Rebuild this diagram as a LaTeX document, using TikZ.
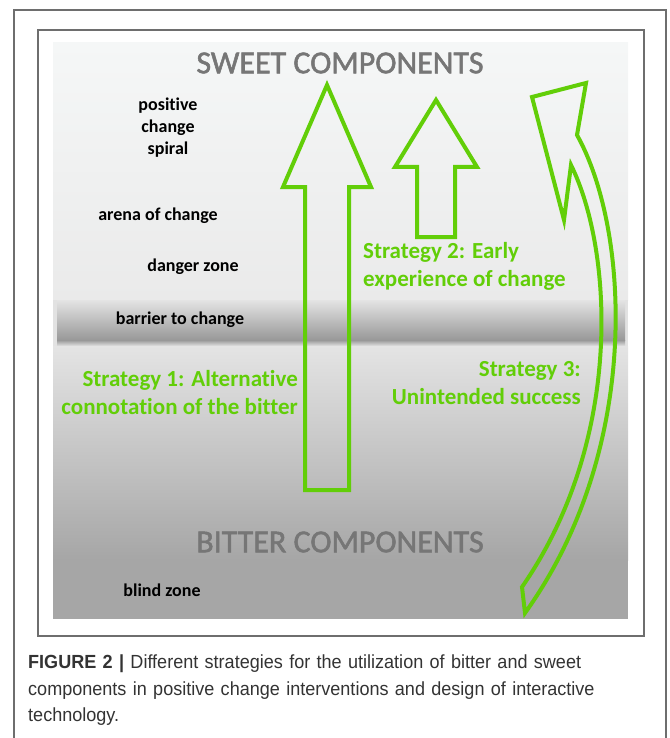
\documentclass[tikz,border=0pt]{standalone}
\usepackage{fontspec}
\setmainfont{Carlito}[Ligatures=NoCommon]
\newfontfamily\headfont{Carlito}[FakeBold=1.6]
\newfontfamily\capfont{Liberation Sans}[FakeStretch=0.95]
\definecolor{stratgreen}{RGB}{98,206,8}
\definecolor{headgray}{RGB}{118,118,118}
\definecolor{framegray}{RGB}{110,110,110}
\tikzset{
	stratarrow/.style={draw=stratgreen, line width=4pt, line join=miter},
	zonelabel/.style={font=\bfseries\fontsize{18}{22}\selectfont, text=black, inner sep=0pt, align=center},
	stratlabel/.style={font=\bfseries\fontsize{23}{28}\selectfont, text=stratgreen, inner sep=0pt},
	headline/.style={font=\headfont\fontsize{32}{40}\selectfont, text=headgray, inner sep=0pt}
}
\begin{document}
\begin{tikzpicture}[x=1pt, y=-1pt]
		\useasboundingbox (0,0) rectangle (669,738);
		% frames
		\draw [framegray, line width=1.3pt] (14,738) -- (14,10) -- (666,10) -- (666,738);
		\draw [framegray, line width=1.1pt] (38,30) rectangle (644,636);
		% background of the zones
		\shade [top color={rgb,255:red,245;green,247;blue,247}, bottom color={rgb,255:red,234;green,234;blue,234}] (53,43) rectangle (628,300);
		\fill [color={rgb,255:red,226;green,226;blue,226}] (53,300) rectangle (628,346);
		\shade [top color={rgb,255:red,228;green,228;blue,228}, middle color={rgb,255:red,192;green,192;blue,192}, bottom color={rgb,255:red,152;green,152;blue,152}] (57,300) rectangle (625,340);
		\shade [top color={rgb,255:red,152;green,152;blue,152}, bottom color={rgb,255:red,226;green,226;blue,226}] (57,340) rectangle (625,346);
		\shade [top color={rgb,255:red,228;green,228;blue,228}, bottom color={rgb,255:red,166;green,166;blue,166}] (53,346) rectangle (628,560);
		\fill [color={rgb,255:red,166;green,166;blue,166}] (53,560) rectangle (628,619);
		% headlines
		\node [headline] (sweet) at (340,63) {SWEET COMPONENTS};
		\node [headline] (bitter) at (340,542) {BITTER COMPONENTS};
		% zones
		\node [zonelabel] (spiral) at (168,128) {positive\\change\\spiral};
		\node [zonelabel] (arena) at (158,216) {arena of change};
		\node [zonelabel] (danger) at (193,267) {danger zone};
		\node [zonelabel] (barrier) at (180,320) {barrier to change};
		\node [zonelabel] (blind) at (162,590) {blind zone};
		% strategy 1
		\draw [stratarrow] (327,85) -- (371,187) -- (349,187) -- (349,490) -- (305,490) -- (305,187) -- (283,187) -- cycle;
		\node [stratlabel, anchor=east, align=right] (strat1) at (298,393) {Strategy 1: Alternative\\connotation of the bitter};
		% strategy 2
		\draw [stratarrow] (436,100) -- (477,167) -- (455,167) -- (455,237) -- (417,237) -- (417,167) -- (395,167) -- cycle;
		\node [stratlabel, anchor=west, align=left] (strat2) at (363,266) {Strategy 2: Early\\experience of change};
		% strategy 3
		\draw [stratarrow] (532,97) -- (586,83) -- (577,135)
			.. controls (630,230) and (642,450) .. (525,613) -- (522,587)
			.. controls (624,440) and (613,250) .. (571,165) -- (564,220) -- cycle;
		\node [stratlabel, anchor=east, align=right] (strat3) at (581,383) {Strategy 3:\\Unintended success};
		% caption
		\node [anchor=north west, inner sep=0pt, align=left, text width=620pt, font=\capfont\fontsize{19}{26.5}\selectfont, text=black!80] (caption) at (28,655)
			{\textbf{FIGURE 2 |} Different strategies for the utilization of bitter and sweet\\components in positive change interventions and design of interactive\\technology.};
\end{tikzpicture}
\end{document}
